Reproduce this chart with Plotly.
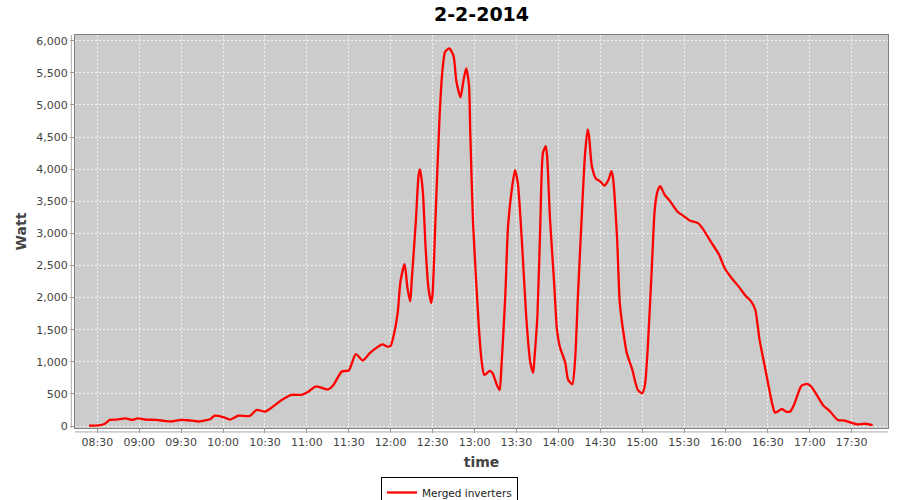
import plotly.graph_objects as go

DAY = "2014-02-02"

times = [
    "08:24", "08:31", "08:35", "08:39", "08:44", "08:50", "08:55", "08:59", "09:05", "09:12",
    "09:18", "09:23", "09:30", "09:35", "09:43", "09:51", "09:54", "10:00", "10:05", "10:11",
    "10:19", "10:24", "10:30", "10:35", "10:42", "10:49", "10:56", "11:01", "11:06", "11:09",
    "11:15", "11:19", "11:25", "11:30", "11:35", "11:40", "11:45", "11:50", "11:54", "11:58",
    "12:00", "12:02", "12:05", "12:07", "12:10", "12:12", "12:14", "12:15", "12:18", "12:20",
    "12:21", "12:23", "12:25", "12:27", "12:29", "12:30", "12:32", "12:35", "12:37", "12:39",
    "12:42", "12:45", "12:47", "12:50", "12:52", "12:54", "12:56", "12:57", "12:59", "13:03",
    "13:05", "13:07", "13:11", "13:13", "13:16", "13:18", "13:19", "13:22", "13:24", "13:27",
    "13:29", "13:31", "13:34", "13:37", "13:40", "13:42", "13:43", "13:45", "13:47", "13:49",
    "13:51", "13:52", "13:54", "13:57", "13:59", "14:01", "14:05", "14:07", "14:10", "14:12",
    "14:14", "14:17", "14:19", "14:21", "14:22", "14:24", "14:27", "14:30", "14:33", "14:36",
    "14:38", "14:39", "14:42", "14:44", "14:47", "14:49", "14:53", "14:55", "14:57", "15:00",
    "15:02", "15:04", "15:07", "15:09", "15:11", "15:13", "15:16", "15:20", "15:25", "15:30",
    "15:34", "15:40", "15:43", "15:49", "15:55", "15:59", "16:04", "16:09", "16:14", "16:18",
    "16:21", "16:24", "16:29", "16:33", "16:35", "16:37", "16:40", "16:43", "16:46", "16:49",
    "16:54", "16:58", "17:01", "17:05", "17:10", "17:14", "17:20", "17:25", "17:30", "17:34",
    "17:39", "17:45",
]

watts = [
    5, 10, 30, 95, 100, 120, 95, 120, 100, 95,
    80, 70, 95, 90, 70, 110, 160, 140, 100, 160,
    155, 250, 225, 290, 405, 485, 485, 535, 615, 605,
    570, 640, 850, 865, 1120, 1020, 1135, 1220, 1270, 1235,
    1250, 1395, 1760, 2250, 2520, 2150, 1940, 2250, 3190, 3915,
    3995, 3655, 2770, 2150, 1915, 2070, 3190, 4825, 5530, 5830,
    5880, 5760, 5370, 5120, 5370, 5570, 5320, 4540, 3135, 1575,
    1030, 795, 860, 820, 640, 560, 820, 2015, 3110, 3735,
    3985, 3785, 2850, 1705, 980, 830, 1080, 1705, 3060, 4255,
    4360, 4200, 3240, 2225, 1500, 1240, 980, 720, 650, 1030,
    2015, 3370, 4200, 4620, 4515, 4045, 3850, 3810, 3745, 3840,
    3970, 3890, 2955, 1915, 1395, 1135, 875, 690, 560, 510,
    640, 1210, 2500, 3370, 3655, 3735, 3605, 3500, 3345, 3265,
    3200, 3160, 3085, 2875, 2670, 2460, 2305, 2175, 2030, 1940,
    1810, 1350, 795, 355, 210, 225, 265, 225, 225, 345,
    625, 655, 615, 485, 310, 240, 95, 85, 50, 25,
    35, 15,
]

tick_labels = ["08:30", "09:00", "09:30", "10:00", "10:30", "11:00", "11:30", "12:00", "12:30",
               "13:00", "13:30", "14:00", "14:30", "15:00", "15:30", "16:00", "16:30", "17:00", "17:30"]
y_ticks = [0, 500, 1000, 1500, 2000, 2500, 3000, 3500, 4000, 4500, 5000, 5500, 6000]

x = [f"{DAY} {t}" for t in times]
tick_vals = [f"{DAY} {t}" for t in tick_labels]

FONT = "DejaVu Sans"

fig = go.Figure()
fig.add_trace(go.Scatter(
    x=x, y=watts, mode="lines", name="Merged inverters",
    line=dict(color="#ff0000", width=2.3, shape="spline", smoothing=0.6),
))

fig.update_layout(
    width=900, height=500,
    margin=dict(l=75, r=12, t=35, b=72, autoexpand=False),
    paper_bgcolor="white",
    plot_bgcolor="#cccccc",
    font=dict(family=FONT, size=11, color="#444444"),
    title=dict(text="<b>2-2-2014</b>", x=0.5, xanchor="center", y=1 - 14 / 500, yanchor="middle",
               xref="paper", yref="container",
               font=dict(family=FONT, size=19, color="black")),
    showlegend=True,
    legend=dict(xref="container", yref="container", x=449.5 / 900, xanchor="center",
                y=1 - 477 / 500, yanchor="top", orientation="h",
                bordercolor="black", borderwidth=1, bgcolor="white",
                font=dict(family=FONT, size=10.5, color="#222222"),
                itemwidth=30, tracegroupgap=0),
)

fig.update_xaxes(
    type="date",
    range=[f"{DAY} 08:14", f"{DAY} 17:56"],
    tickvals=tick_vals, ticktext=tick_labels,
    showgrid=True, gridcolor="#f2f2f2", griddash="2px,2px", gridwidth=1,
    zeroline=False,
    showline=True, linecolor="#808080", linewidth=1, mirror=True,
    ticks="outside", ticklen=4, tickcolor="#999999",
    title=dict(text="<b>time</b>", font=dict(family=FONT, size=14, color="#444444"), standoff=8),
    tickfont=dict(family=FONT, size=11, color="#444444"),
)
fig.update_yaxes(
    range=[-31, 6089],
    tickvals=y_ticks, tickformat=",",
    showgrid=True, gridcolor="#f2f2f2", griddash="2px,2px", gridwidth=1,
    zeroline=False,
    showline=True, linecolor="#808080", linewidth=1, mirror=True,
    ticks="outside", ticklen=4, tickcolor="#999999",
    title=dict(text="<b>Watt</b>", font=dict(family=FONT, size=14, color="#444444"), standoff=6),
    tickfont=dict(family=FONT, size=11, color="#444444"),
)

# offset axis lines as drawn by the original charting library
fig.add_shape(type="line", xref="paper", yref="paper", x0=-0.0045, x1=-0.0045, y0=0, y1=1,
              line=dict(color="#aaaaaa", width=1), layer="above")
fig.add_shape(type="line", xref="paper", yref="paper", x0=0, x1=1, y0=-0.01, y1=-0.01,
              line=dict(color="#aaaaaa", width=1), layer="above")

fig.write_html(
    "out.html",
    config={"displayModeBar": False},
    post_script="document.body.style.margin='0';document.body.style.overflow='hidden';",
)
